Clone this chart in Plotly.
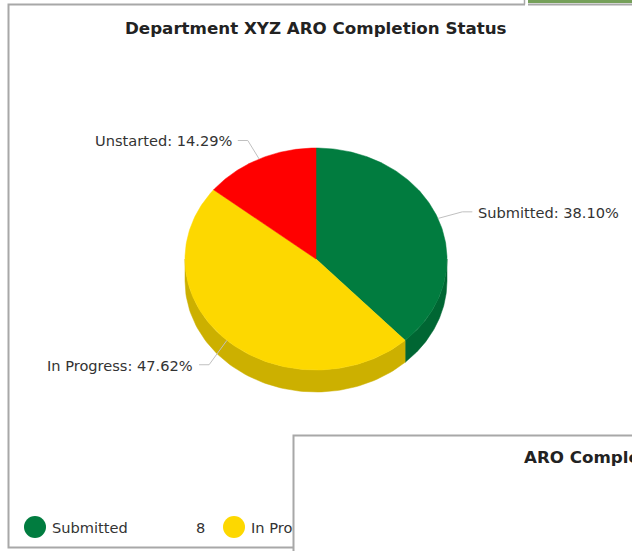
import numpy as np
import plotly.graph_objects as go

# ---------------- data ----------------
categories = ["Submitted", "In Progress", "Unstarted"]
counts = [8, 10, 3]
top_colors = ["#017c3f", "#fdd800", "#ff0000"]
side_colors = ["#006633", "#ccb000", "#cc0000"]
title_text = "Department XYZ ARO Completion Status"
second_title = "ARO Completion Status"

# ---------------- layout constants (pixels) ----------------
W, H = 632, 551
cx, cy = 316, 259          # centre of the top face
rx, ry = 131, 111          # ellipse radii (tilted pie)
depth = 22                 # 3D thickness
FONT = "DejaVu Sans"
TXT = "#333333"
LINE = "#c0c0c0"

total = sum(counts)
pcts = [c / total * 100 for c in counts]


def pt(theta_deg, scale=1.0, dy=0.0):
    t = np.radians(theta_deg)
    return cx + scale * rx * np.sin(t), cy - scale * ry * np.cos(t) + dy


fig = go.Figure()

# slice angles (clockwise from 12 o'clock)
bounds = np.concatenate([[0], np.cumsum(pcts) * 3.6])

# --- sides (front half: 90..270 deg) ---
for i in range(len(categories)):
    a0, a1 = bounds[i], bounds[i + 1]
    s, e = max(a0, 90), min(a1, 270)
    if e <= s:
        continue
    th = np.linspace(s, e, 80)
    xt, yt = pt(th)
    xb, yb = pt(th[::-1], dy=depth)
    fig.add_trace(go.Scatter(
        x=np.concatenate([xt, xb, [xt[0]]]), y=np.concatenate([yt, yb, [yt[0]]]),
        mode="lines", fill="toself", fillcolor=side_colors[i],
        line=dict(color=side_colors[i], width=0.5), hoverinfo="skip", showlegend=False))

# --- top faces ---
for i in range(len(categories)):
    a0, a1 = bounds[i], bounds[i + 1]
    th = np.linspace(a0, a1, 150)
    xs, ys = pt(th)
    fig.add_trace(go.Scatter(
        x=np.concatenate([[cx], xs, [cx]]), y=np.concatenate([[cy], ys, [cy]]),
        mode="lines", fill="toself", fillcolor=top_colors[i],
        line=dict(color=top_colors[i], width=0.5),
        name=categories[i], hoverinfo="name", showlegend=False))

# --- data labels with connectors ---
annotations = []
for i in range(len(categories)):
    mid = (bounds[i] + bounds[i + 1]) / 2
    ax_, ay_ = pt(mid)
    extra = depth * 0.3 if 90 < mid < 270 else 0
    ex, ey = pt(mid, scale=1.2, dy=extra + 1.5)
    right = np.sin(np.radians(mid)) >= 0
    hx = ex + (10 if right else -10)
    fig.add_trace(go.Scatter(x=[ax_, ex, hx], y=[ay_, ey, ey], mode="lines",
                             line=dict(color=LINE, width=1),
                             hoverinfo="skip", showlegend=False))
    annotations.append(dict(
        x=hx + (4 if right else -4), y=ey + 0.5, xref="x", yref="y",
        text=f"{categories[i]}: {pcts[i]:.2f}%", showarrow=False,
        xanchor="left" if right else "right", yanchor="middle",
        font=dict(family=FONT, size=14.6, color=TXT)))

# --- custom legend (markers + names + values) ---
leg_x0, leg_dx, leg_y = 35, 199, 527
for i in range(len(categories)):
    lx = leg_x0 + i * leg_dx
    fig.add_trace(go.Scatter(x=[lx], y=[leg_y], mode="markers",
                             marker=dict(size=22, color=top_colors[i]),
                             hoverinfo="skip", showlegend=False))
    fig.add_trace(go.Scatter(x=[lx + 17], y=[leg_y + 2], mode="text",
                             text=[categories[i]], textposition="middle right",
                             textfont=dict(family=FONT, size=14.6, color=TXT),
                             hoverinfo="skip", showlegend=False))
    fig.add_trace(go.Scatter(x=[lx + 161], y=[leg_y + 2], mode="text",
                             text=[str(counts[i])], textposition="middle right",
                             textfont=dict(family=FONT, size=14.6, color=TXT),
                             hoverinfo="skip", showlegend=False))

annotations.append(dict(x=316, y=27.5, xref="x", yref="y", text=f"<b>{title_text}</b>",
                        showarrow=False, xanchor="center", yanchor="middle",
                        font=dict(family=FONT, size=16.7, color="#222222")))
annotations.append(dict(x=522, y=456.5, xref="x", yref="y", text=f"<b>{second_title}</b>",
                        showarrow=False, xanchor="left", yanchor="middle",
                        font=dict(family=FONT, size=16.7, color="#222222")))

shapes = [
    # main chart box
    dict(type="rect", x0=8.5, y0=4.5, x1=720, y1=547.5, xref="x", yref="y",
         line=dict(color="#a8a8a8", width=2), fillcolor="rgba(0,0,0,0)", layer="below"),
    # top-right element
    dict(type="rect", x0=525, y0=-6, x1=528, y1=6, xref="x", yref="y",
         line=dict(width=0), fillcolor="white", layer="above"),
    dict(type="line", x0=524.5, y0=-2, x1=524.5, y1=4.5, xref="x", yref="y",
         line=dict(color="#a8a8a8", width=1.5), layer="above"),
    dict(type="rect", x0=528, y0=-6, x1=700, y1=3, xref="x", yref="y",
         line=dict(width=0), fillcolor="#76a05a", layer="above"),
    # second chart box overlapping
    dict(type="rect", x0=293.5, y0=435.5, x1=720, y1=620, xref="x", yref="y",
         line=dict(color="#a8a8a8", width=2), fillcolor="white", layer="above"),
]

fig.update_layout(
    width=W, height=H, margin=dict(l=0, r=0, t=0, b=0),
    paper_bgcolor="white", plot_bgcolor="white",
    xaxis=dict(range=[0, W], visible=False, fixedrange=True),
    yaxis=dict(range=[H, 0], visible=False, fixedrange=True),
    annotations=annotations, shapes=shapes, showlegend=False,
)

fig.write_html("out.html", config={"displayModeBar": False},
               post_script="document.body.style.margin='0';document.body.style.overflow='hidden';")
